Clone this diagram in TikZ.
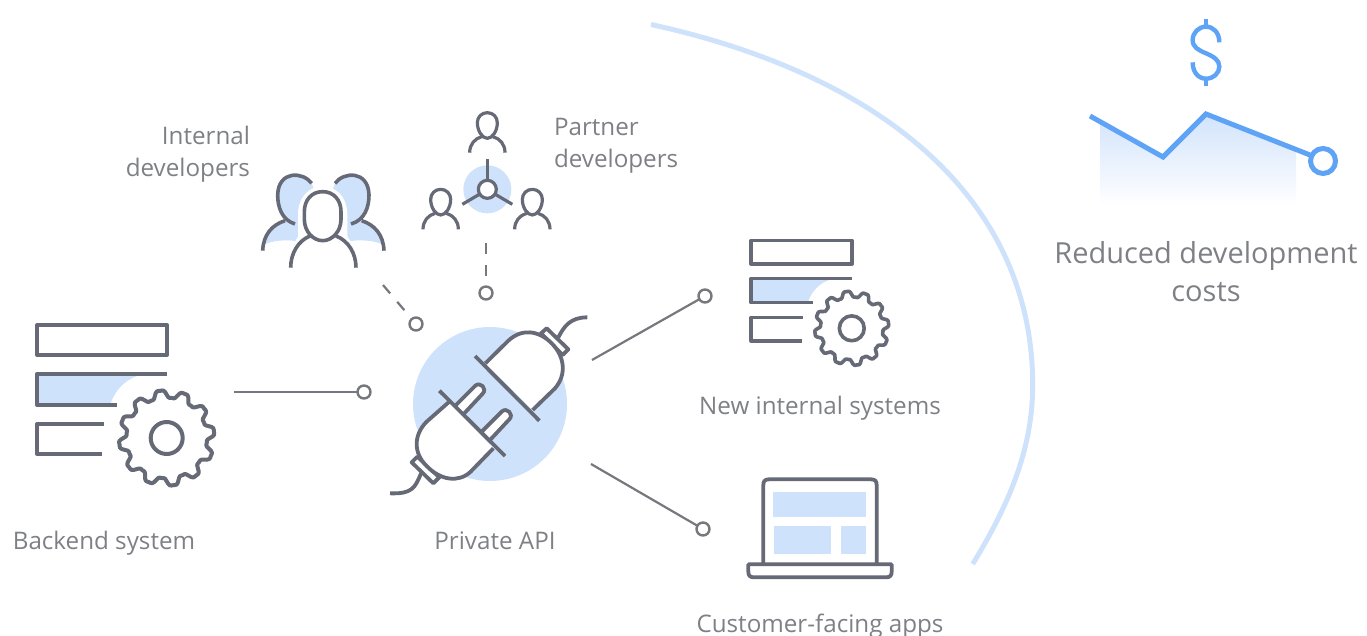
\documentclass[tikz,border=0pt]{standalone}
\usepackage{fontspec}
\setmainfont{Open Sans}
\definecolor{ink}{HTML}{666976}
\definecolor{soft}{HTML}{CFE2FB}
\definecolor{txt}{HTML}{7E8085}
\definecolor{wire}{HTML}{77787D}
\definecolor{accent}{HTML}{5EA3F6}
\tikzset{
 ico/.style={draw=ink,line join=round},
 softfill/.style={fill=soft,draw=none},
 lab/.style={text=txt,font=\fontsize{24.2}{32}\selectfont,inner sep=0pt,outer sep=0pt},
 biglab/.style={text=txt,font=\fontsize{29}{38}\selectfont,inner sep=0pt,outer sep=0pt,anchor=base},
 port/.style={circle,draw=wire,line width=2.4pt,fill=white,minimum size=13pt,inner sep=0pt,outer sep=0pt},
 wirel/.style={draw=wire,line width=2.2pt},
 wired/.style={draw=wire,line width=2.2pt,dash pattern=on 11pt off 11pt},
 serverico/.pic={
  \path[softfill] (0,49) -- (107,49) .. controls (92,52) and (79,62) .. (73,80) -- (0,80) -- cycle;
  \draw[ico] (0,0) rectangle (130,30);
  \draw[ico] (130,49) -- (0,49) -- (0,80) -- (80,80);
  \draw[ico] (67,99) -- (0,99) -- (0,129) -- (65,129);
  \draw[ico,fill=white] plot[domain=0:360,samples=181] ({129.7+(44+4.4*cos(12*\x)-0.8*cos(36*\x))*cos(\x-98)},{113+(44+4.4*cos(12*\x)-0.8*cos(36*\x))*sin(\x-98)}) -- cycle;
  \draw[ico] (129.7,113) circle[radius=16];
 }
}
\begin{document}
\begin{tikzpicture}[x=1pt,y=-1pt,line width=4pt]
\useasboundingbox (0,0) rectangle (1367,636);
% big arc
\draw[soft,line width=5pt] (651,24.5) .. controls (891,77) and (1032.7,205) .. (1032.7,385) .. controls (1032.7,445) and (1012,500) .. (972.7,564);
% servers
\pic[line width=4pt] at (37,325) {serverico};
\pic[scale=.777,line width=3.6pt] at (751,240.5) {serverico};
% plug
\fill[soft] (490,404) circle[radius=77];
\begin{scope}[shift={(380,300)},scale=1/3,line width=3.8pt]
 \draw[ico] (535,112) .. controls (552,80) and (570,52) .. (622,52);
 \draw[ico,fill=white] (500,85) -- (565,148) -- (548,165) -- (483,100) -- cycle;
 \draw[ico,fill=white] (316,190) -- (385,122) .. controls (425,85) and (475,90) .. (515,130) .. controls (555,170) and (560,225) .. (525,265) -- (458,330);
 \draw[ico] (285,168) -- (478,362);
 \draw[ico] (123,520) .. controls (105,565) and (95,582) .. (30,580);
 \draw[ico,fill=white] (95,487) -- (112,470) -- (178,532) -- (160,550) -- cycle;
 \draw[ico,fill=white] (208,305) -- (140,365) .. controls (100,405) and (100,460) .. (140,498) .. controls (180,540) and (235,550) .. (272,515) -- (340,445);
 \draw[ico,fill=white] (225,318) -- (285,258) .. controls (300,243) and (323,266) .. (308,281) -- (250,343);
 \draw[ico,fill=white] (305,395) -- (365,335) .. controls (380,320) and (403,343) .. (388,358) -- (330,420);
 \draw[ico] (178,272) -- (375,468);
\end{scope}
% internal developers
\begin{scope}[shift={(250,100)},scale=1/3,line width=3.6pt]
 \path[softfill] (185,250) .. controls (160,215) and (85,210) .. (83,285) .. controls (83,320) and (95,345) .. (115,362) .. controls (70,375) and (45,400) .. (38,435) .. controls (70,420) and (110,418) .. (150,425) -- (220,340) -- cycle;
 \path[softfill] (255,250) .. controls (280,215) and (355,210) .. (357,285) .. controls (357,320) and (345,345) .. (325,362) .. controls (370,375) and (395,400) .. (402,435) .. controls (370,420) and (330,418) .. (290,425) -- (220,340) -- cycle;
 \fill[white] (144,345) .. controls (144,230) and (292,230) .. (292,345) -- (292,410) -- (320,450) -- (120,450) -- (144,410) -- cycle;
 \draw[ico] (185,250) .. controls (160,215) and (85,210) .. (83,285) .. controls (83,320) and (95,360) .. (135,372);
 \draw[ico] (255,250) .. controls (280,215) and (355,210) .. (357,285) .. controls (357,320) and (345,360) .. (303,372);
 \draw[ico] (38,452) .. controls (40,405) and (65,375) .. (105,362);
 \draw[ico] (402,452) .. controls (400,405) and (375,375) .. (335,362);
 \draw[ico,fill=white] (218,275) .. controls (185,275) and (163,300) .. (163,335) -- (163,358) .. controls (163,395) and (190,422) .. (218,422) .. controls (246,422) and (273,395) .. (273,358) -- (273,335) .. controls (273,300) and (251,275) .. (218,275) -- cycle;
 \draw[ico] (122,503) .. controls (122,460) and (145,422) .. (180,408);
 \draw[ico] (318,503) .. controls (318,460) and (295,422) .. (258,408);
\end{scope}
% partner developers
\begin{scope}[shift={(250,100)},scale=1/3,line width=3.2pt]
 \fill[soft] (712,268) circle[radius=72];
 \draw[ico] (712,178) -- (712,240);
 \draw[ico] (637,313) -- (688,283);
 \draw[ico] (787,313) -- (736,283);
 \draw[ico,fill=white] (712,268) circle[radius=27];
 \foreach \px/\py in {712/78,572/308,847/308}{
  \begin{scope}[shift={(\px,\py)}]
   \draw[ico] (0,-40) .. controls (-17,-40) and (-30,-27) .. (-30,-10) .. controls (-30,15) and (-15,37) .. (0,37) .. controls (15,37) and (30,15) .. (30,-10) .. controls (30,-27) and (17,-40) .. (0,-40) -- cycle;
   \draw[ico] (-53,80) .. controls (-53,55) and (-38,38) .. (-17,32);
   \draw[ico] (53,80) .. controls (53,55) and (38,38) .. (17,32);
  \end{scope}
 }
\end{scope}
% laptop
\begin{scope}[shift={(730,470)},scale=1/3,line width=3.8pt]
 \fill[soft] (129,66) rectangle (408,141);
 \fill[soft] (132,168) rectangle (303,252);
 \fill[soft] (333,168) rectangle (408,252);
 \draw[ico] (100,283) -- (100,45) .. controls (100,33) and (105,28) .. (117,28) -- (423,28) .. controls (435,28) and (440,33) .. (440,45) -- (440,283);
 \draw[ico] (55,283) -- (485,283) -- (485,305) .. controls (485,317) and (480,322) .. (468,322) -- (72,322) .. controls (60,322) and (55,317) .. (55,305) -- cycle;
\end{scope}
% connectors
\node[port] (pa) at (364,392) {};
\coordinate (fa) at (234,392);
\draw[wirel] (fa) -- (pa);
\node[port] (pb) at (705,296) {};
\coordinate (fb) at (592,360);
\draw[wirel] (fb) -- (pb);
\node[port] (pc) at (703,529) {};
\coordinate (fc) at (591,464);
\draw[wirel] (fc) -- (pc);
\node[port] (pd) at (416,324) {};
\coordinate (fd) at (383,285);
\draw[wired] (fd) -- (pd);
\node[port] (pe) at (486,293) {};
\coordinate (fe) at (486,243);
\draw[wired] (fe) -- (pe);
% cost chart
\begin{scope}
 \clip (1100,122) -- (1163,157) -- (1206,114) -- (1296,150) -- (1296,205) -- (1100,205) -- cycle;
 \shade[top color=soft,bottom color=white] (1095,110) rectangle (1300,205);
\end{scope}
\draw[accent,line width=5pt] (1090,116) -- (1163,157) -- (1206,114) -- (1310,155);
\node[circle,draw=accent,line width=5pt,fill=white,minimum size=25pt,inner sep=0pt] (endp) at (1323,161) {};
% dollar
\begin{scope}[shift={(1070,10)},scale=1/3,line width=4.4pt]
 \draw[accent] (408,28) -- (408,50);
 \draw[accent] (408,206) -- (408,228);
 \draw[accent] (448,97) .. controls (448,68) and (430,50) .. (408,50) .. controls (386,50) and (368,68) .. (368,90) .. controls (368,112) and (385,120) .. (408,130) .. controls (431,140) and (448,150) .. (448,170) .. controls (448,190) and (430,206) .. (408,206) .. controls (386,206) and (368,188) .. (368,157);
\end{scope}
% labels
\node[lab,anchor=base east] (l1) at (250,145) {Internal};
\node[lab,anchor=base east] (l2) at (250,177) {developers};
\node[lab,anchor=base west] (l3) at (554,136) {Partner};
\node[lab,anchor=base west] (l4) at (554,168) {developers};
\node[lab,anchor=base] (l5) at (104,549) {Backend system};
\node[lab,anchor=base] (l6) at (495,549) {Private API};
\node[lab,anchor=base] (l7) at (820,414) {New internal systems};
\node[lab,anchor=base] (l8) at (820,632) {Customer-facing apps};
\node[biglab] (l9) at (1206,263) {Reduced development};
\node[biglab] (l10) at (1206,301) {costs};
\end{tikzpicture}
\end{document}
